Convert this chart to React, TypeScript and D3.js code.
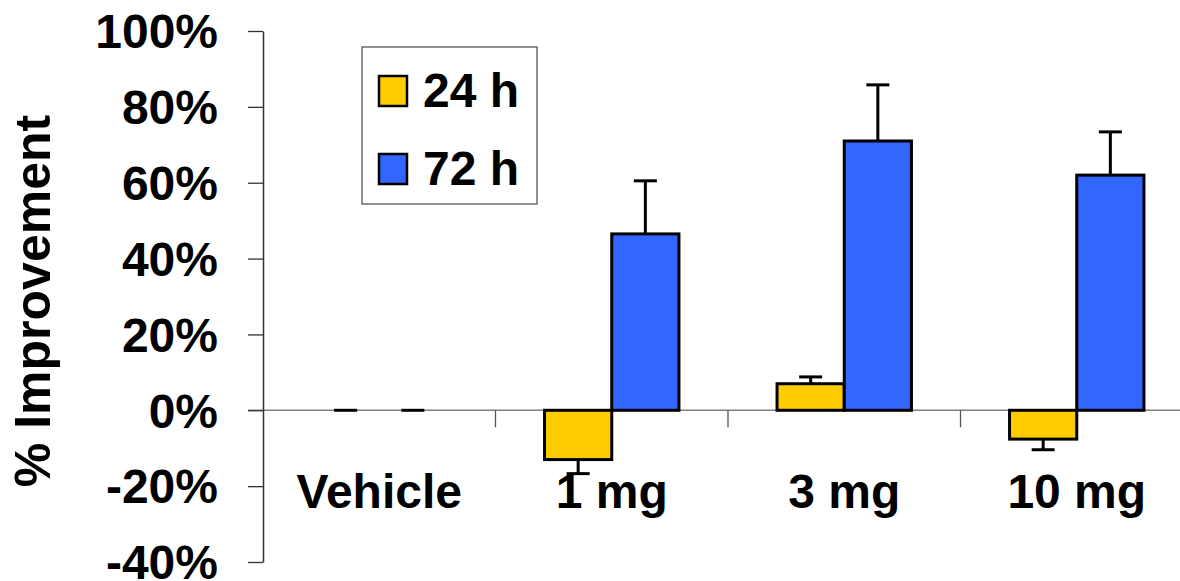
import React, { useEffect, useRef } from 'react';
import * as d3 from 'd3';

const categories = ['Vehicle', '1 mg', '3 mg', '10 mg'];
const seriesNames = ['24 h', '72 h'];
const values24h = [0, -13, 7, -7.6];
const errors24h = [0, 3.7, 1.8, 2.8];
const values72h = [0, 46.5, 71, 62];
const errors72h = [0, 14, 14.8, 11.4];
const yTicks = [-40, -20, 0, 20, 40, 60, 80, 100];
const colors = ['#FFCC00', '#3366FF'];

const FONT = '"Liberation Sans", Arial, sans-serif';

export default function App() {
  const svgRef = useRef<SVGSVGElement>(null);

  useEffect(() => {
    if (!svgRef.current) return;
    const svg = d3.select(svgRef.current);
    svg.selectAll('*').remove();

    const width = 1180;
    const height = 581;
    const axisX = 263;

    const y = d3.scaleLinear().domain([-40, 100]).range([562, 31]);
    const x0 = d3.scaleBand<string>().domain(categories).range([axisX, axisX + 4 * 232.5]).padding(0);
    const x1 = d3.scaleBand<string>().domain(seriesNames).range([0, x0.bandwidth()])
      .paddingInner(0).paddingOuter(0.73);

    svg.attr('width', width).attr('height', height);

    const rows = categories.flatMap((c, i) => [
      { cat: c, series: seriesNames[0], value: values24h[i], err: errors24h[i], color: colors[0] },
      { cat: c, series: seriesNames[1], value: values72h[i], err: errors72h[i], color: colors[1] },
    ]);

    // zero line (category axis)
    svg.append('line')
      .attr('x1', axisX - 15).attr('x2', width)
      .attr('y1', y(0)).attr('y2', y(0))
      .attr('stroke', '#808080').attr('stroke-width', 1.5);

    // category separators
    svg.append('g')
      .selectAll('line')
      .data(categories.slice(1))
      .join('line')
      .attr('x1', d => x0(d)!).attr('x2', d => x0(d)!)
      .attr('y1', y(0)).attr('y2', y(0) + 17)
      .attr('stroke', '#555').attr('stroke-width', 1.3);

    // y axis
    const yAxis = d3.axisLeft(y).tickValues(yTicks).tickSize(15).tickSizeOuter(0)
      .tickFormat(d => `${d}%`);
    svg.append('g')
      .attr('transform', `translate(${axisX},0)`)
      .call(yAxis)
      .call(g => g.select('.domain').attr('stroke', '#333').attr('stroke-width', 1.5))
      .call(g => g.selectAll('.tick line').attr('stroke', '#333').attr('stroke-width', 1.3))
      .call(g => g.selectAll('.tick text')
        .attr('x', -45)
        .attr('dy', '0.35em')
        .attr('fill', '#000')
        .attr('font-size', '48px')
        .attr('font-weight', 'bold')
        .attr('font-family', FONT));

    // y title
    svg.append('text')
      .attr('transform', `translate(50, 301) rotate(-90)`)
      .attr('text-anchor', 'middle')
      .attr('font-size', '50px')
      .attr('font-weight', 'bold')
      .attr('font-family', FONT)
      .text('% Improvement');

    // category labels
    svg.append('g')
      .selectAll('text')
      .data(categories)
      .join('text')
      .attr('x', d => x0(d)! + x0.bandwidth() / 2)
      .attr('y', 508)
      .attr('text-anchor', 'middle')
      .attr('font-size', '48px')
      .attr('font-weight', 'bold')
      .attr('font-family', FONT)
      .text(d => d);

    // error bars
    const errG = svg.append('g');
    rows.forEach(r => {
      const cx = x0(r.cat)! + x1(r.series)! + x1.bandwidth() / 2;
      const sign = r.value < 0 ? -1 : 1;
      const end = y(r.value + sign * r.err);
      errG.append('line')
        .attr('x1', cx).attr('x2', cx)
        .attr('y1', y(r.value)).attr('y2', end)
        .attr('stroke', '#000').attr('stroke-width', 3);
      errG.append('line')
        .attr('x1', cx - 11.5).attr('x2', cx + 11.5)
        .attr('y1', end).attr('y2', end)
        .attr('stroke', '#000').attr('stroke-width', 3);
    });

    // bars
    svg.append('g')
      .selectAll('rect')
      .data(rows.filter(r => r.value !== 0))
      .join('rect')
      .attr('x', d => x0(d.cat)! + x1(d.series)!)
      .attr('width', x1.bandwidth())
      .attr('y', d => Math.min(y(d.value), y(0)))
      .attr('height', d => Math.abs(y(d.value) - y(0)))
      .attr('fill', d => d.color)
      .attr('stroke', '#000')
      .attr('stroke-width', 3);

    // legend
    const legend = svg.append('g');
    legend.append('rect')
      .attr('x', 362).attr('y', 47).attr('width', 175).attr('height', 157)
      .attr('fill', '#fff').attr('stroke', '#555').attr('stroke-width', 1.3);
    seriesNames.forEach((s, i) => {
      const top = 76 + i * 78;
      legend.append('rect')
        .attr('x', 379).attr('y', top).attr('width', 28).attr('height', 30)
        .attr('fill', colors[i]).attr('stroke', '#000').attr('stroke-width', 2.5);
      legend.append('text')
        .attr('x', 423).attr('y', top + 31)
        .attr('font-size', '48px')
        .attr('font-weight', 'bold')
        .attr('font-family', FONT)
        .text(s);
    });
  }, []);

  return (
    <div style={{ position: 'absolute', left: 0, top: 0, background: '#fff' }}>
      <svg ref={svgRef} style={{ display: 'block' }} />
    </div>
  );
}
